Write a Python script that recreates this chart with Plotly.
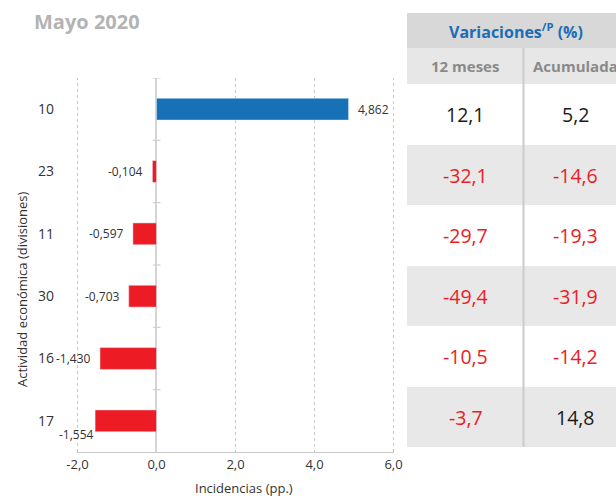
import plotly.graph_objects as go

# ---------------- data ----------------
categories = ["10", "23", "11", "30", "16", "17"]
incidencias = [4.862, -0.104, -0.597, -0.703, -1.430, -1.554]
var_12m = [12.1, -32.1, -29.7, -49.4, -10.5, -3.7]
var_acum = [5.2, -14.6, -19.3, -31.9, -14.2, 14.8]
x_ticks = [-2.0, 0.0, 2.0, 4.0, 6.0]
x_tick_labels = ["-2,0", "0,0", "2,0", "4,0", "6,0"]
title_text = "Mayo 2020"
table_header = "Variaciones<sup>/P</sup> (%)"
col_headers = ["12 meses", "Acumulada"]

BLUE = "#1771b7"
RED = "#ed1c24"
FONT = "Open Sans"
GRID = "#c8c8c8"

W, H = 616, 496
L, R, T, B = 77, 394, 78, 452


def px_x(p):
    return (p - L) / (R - L)


def px_y(p):
    return (B - p) / (B - T)


def fmt(v, d):
    s = f"{v:.{d}f}".replace(".", ",")
    return s


ypos = list(range(len(categories)))
colors = [BLUE if v >= 0 else RED for v in incidencias]

fig = go.Figure()
fig.add_trace(go.Bar(
    x=incidencias, y=ypos, orientation="h", marker_color=colors,
    width=0.35, showlegend=False, hoverinfo="skip",
))

shapes = []
annotations = []

# dashed gridlines at the plot edges (plotly omits them)
for xv in (x_ticks[0], x_ticks[-1]):
    shapes.append(dict(type="line", xref="x", yref="paper", x0=xv, x1=xv, y0=0, y1=1,
                       line=dict(color=GRID, width=1, dash="3px,3px"), layer="below"))

LBL = dict(size=12, color="#333333", family=FONT)
# value labels
for i, v in enumerate(incidencias):
    label = fmt(v, 3)
    if i == len(incidencias) - 1:
        annotations.append(dict(x=v, y=i, xref="x", yref="y", text=label,
                                xanchor="right", yanchor="middle", xshift=1, yshift=-14,
                                showarrow=False, font=LBL))
    elif v >= 0:
        annotations.append(dict(x=v, y=i, xref="x", yref="y", text=label,
                                xanchor="left", yanchor="middle", xshift=7,
                                showarrow=False, font=LBL))
    else:
        annotations.append(dict(x=v, y=i, xref="x", yref="y", text=label,
                                xanchor="right", yanchor="middle", xshift=-7,
                                showarrow=False, font=LBL))

# small ticks at category boundaries on zero line
for k in range(len(categories)):
    shapes.append(dict(type="line", xref="x", yref="y", x0=-0.09, x1=0.1,
                       y0=k - 0.5, y1=k - 0.5, line=dict(color="#d0d0d0", width=1.2)))

# ---------------- table ----------------
tx0, tx1 = 407, 630
sep_x = 523.5
shapes.append(dict(type="rect", xref="paper", yref="paper", x0=px_x(tx0), x1=px_x(tx1),
                   y0=px_y(48), y1=px_y(13), fillcolor="#d8d8d8", line=dict(width=0), layer="below"))
shapes.append(dict(type="rect", xref="paper", yref="paper", x0=px_x(tx0), x1=px_x(tx1),
                   y0=px_y(84), y1=px_y(48), fillcolor="#e7e7e7", line=dict(width=0), layer="below"))
row_bounds = [84, 145, 205, 266, 326, 387, 447]
for i in range(len(categories)):
    if i % 2 == 1:
        shapes.append(dict(type="rect", xref="paper", yref="paper", x0=px_x(tx0), x1=px_x(tx1),
                           y0=px_y(row_bounds[i + 1]), y1=px_y(row_bounds[i]),
                           fillcolor="#e8e8e8", line=dict(width=0), layer="below"))
shapes.append(dict(type="line", xref="paper", yref="paper", x0=px_x(sep_x), x1=px_x(sep_x),
                   y0=px_y(447), y1=px_y(48), line=dict(color="#cccccc", width=2)))

annotations.append(dict(x=px_x(516), y=px_y(31), xref="paper", yref="paper", text=f"<b>{table_header}</b>",
                        showarrow=False, xanchor="center", yanchor="middle",
                        font=dict(size=16, color="#1a6db5", family=FONT)))
annotations.append(dict(x=px_x(465), y=px_y(66), xref="paper", yref="paper", text=f"<b>{col_headers[0]}</b>",
                        showarrow=False, xanchor="center", yanchor="middle",
                        font=dict(size=15, color="#8a8a8a", family=FONT)))
annotations.append(dict(x=px_x(531), y=px_y(66), xref="paper", yref="paper", text=f"<b>{col_headers[1]}</b>",
                        showarrow=False, xanchor="left", yanchor="middle",
                        font=dict(size=15, color="#8a8a8a", family=FONT)))
for i in range(len(categories)):
    yc = (row_bounds[i] + row_bounds[i + 1]) / 2
    for xc, v in ((465.5, var_12m[i]), (575, var_acum[i])):
        annotations.append(dict(x=px_x(xc), y=px_y(yc), xref="paper", yref="paper", text=fmt(v, 1),
                                showarrow=False, xanchor="center", yanchor="middle",
                                font=dict(size=19.5, color=RED if v < 0 else "#1a1a1a", family=FONT)))

# titles
annotations.append(dict(x=px_x(32), y=px_y(21), xref="paper", yref="paper", text=f"<b>{title_text}</b>",
                        showarrow=False, xanchor="left", yanchor="middle",
                        font=dict(size=20, color="#b3b3b3", family=FONT)))
annotations.append(dict(x=px_x(22), y=px_y(289), xref="paper", yref="paper",
                        text="Actividad económica (divisiones)", textangle=-90,
                        showarrow=False, xanchor="center", yanchor="middle",
                        font=dict(size=13, color="#333333", family=FONT)))
annotations.append(dict(x=px_x(244), y=px_y(488), xref="paper", yref="paper",
                        text="Incidencias (pp.)",
                        showarrow=False, xanchor="center", yanchor="middle",
                        font=dict(size=13, color="#333333", family=FONT)))

fig.update_layout(
    width=W, height=H,
    margin=dict(l=L, r=W - R, t=T, b=H - B, pad=0),
    paper_bgcolor="white", plot_bgcolor="white",
    font=dict(family=FONT, color="#333333"),
    separators=",.",
    shapes=shapes, annotations=annotations,
    bargap=0.6,
)
fig.update_xaxes(
    range=[-2.012, 6.012], tickvals=x_ticks, ticktext=x_tick_labels,
    showgrid=True, gridcolor=GRID, griddash="3px,3px", gridwidth=1,
    zeroline=True, zerolinecolor="#d4d4d4", zerolinewidth=1.5,
    showline=True, linecolor=GRID, linewidth=1,
    ticks="", tickfont=dict(size=13, color="#333333", family=FONT),
    fixedrange=True,
)
fig.update_yaxes(
    range=[len(categories) - 0.5, -0.5], tickvals=ypos, ticktext=categories,
    showgrid=False, zeroline=False, showline=False, ticks="",
    ticklabelstandoff=22,
    tickfont=dict(size=14, color="#333333", family=FONT),
    fixedrange=True,
)

fig.write_html(
    "out.html",
    config={"displayModeBar": False},
    post_script="document.body.style.margin='0';document.body.style.overflow='hidden';",
)
